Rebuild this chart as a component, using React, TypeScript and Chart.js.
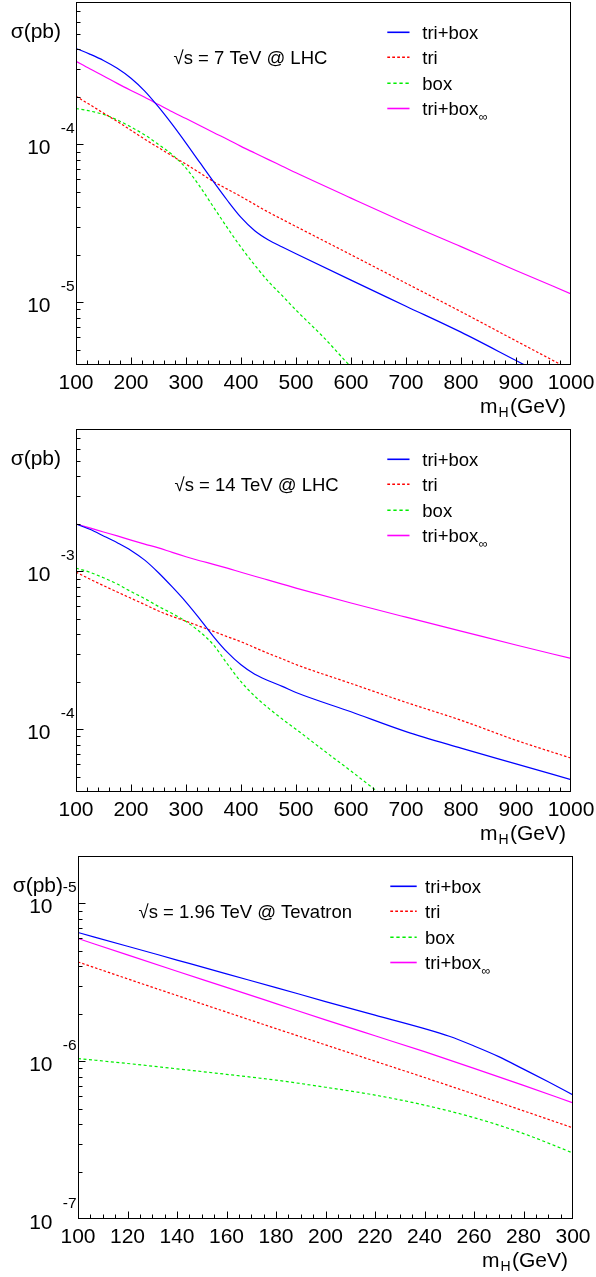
import React, { useEffect, useRef } from "react";
import { Chart, registerables } from "chart.js";

Chart.register(...registerables);

const FONT = '"Liberation Sans", Arial, Helvetica, sans-serif';

// ---------------- data: sqrt(s) = 7 TeV @ LHC ----------------
const MH_LHC = [100, 125, 150, 175, 200, 225, 250, 275, 300, 325, 350, 375, 400, 425, 450, 475, 500, 600, 700, 800, 900, 1000];
const MH_LHC7_BOX = [100, 125, 150, 175, 200, 225, 250, 275, 300, 325, 350, 375, 400, 425, 450, 475, 500, 550, 600, 650];
const LHC7_TRIBOX = [4.06e-4, 3.74e-4, 3.41e-4, 3.04e-4, 2.63e-4, 2.18e-4, 1.73e-4, 1.34e-4, 1.02e-4, 7.69e-5, 5.81e-5, 4.43e-5, 3.45e-5, 2.84e-5, 2.48e-5, 2.24e-5, 2.03e-5, 1.38e-5, 9.44e-6, 6.46e-6, 4.27e-6, 2.82e-6];
const LHC7_TRI = [2.02e-4, 1.79e-4, 1.58e-4, 1.40e-4, 1.23e-4, 1.08e-4, 9.55e-5, 8.45e-5, 7.50e-5, 6.61e-5, 5.82e-5, 5.21e-5, 4.68e-5, 4.17e-5, 3.72e-5, 3.35e-5, 3.02e-5, 2.00e-5, 1.32e-5, 8.71e-6, 5.69e-6, 3.72e-6];
const LHC7_BOX = [1.69e-4, 1.63e-4, 1.55e-4, 1.43e-4, 1.29e-4, 1.15e-4, 1.00e-4, 8.61e-5, 7.08e-5, 5.43e-5, 4.01e-5, 2.97e-5, 2.23e-5, 1.72e-5, 1.35e-5, 1.10e-5, 8.91e-6, 6.00e-6, 3.89e-6, 2.63e-6];
const LHC7_TRIBOX_INF = [3.37e-4, 3.02e-4, 2.72e-4, 2.44e-4, 2.20e-4, 1.99e-4, 1.79e-4, 1.61e-4, 1.46e-4, 1.32e-4, 1.19e-4, 1.08e-4, 9.73e-5, 8.83e-5, 8.02e-5, 7.28e-5, 6.61e-5, 4.57e-5, 3.18e-5, 2.25e-5, 1.59e-5, 1.13e-5];

// ---------------- data: sqrt(s) = 14 TeV @ LHC ----------------
const MH_LHC14_BOX = [100, 125, 150, 175, 200, 225, 250, 275, 300, 325, 350, 375, 400, 425, 450, 475, 500, 550, 600, 650, 700];
const LHC14_TRIBOX = [2.00e-3, 1.85e-3, 1.68e-3, 1.52e-3, 1.36e-3, 1.18e-3, 9.82e-4, 7.98e-4, 6.40e-4, 5.01e-4, 3.87e-4, 3.08e-4, 2.56e-4, 2.23e-4, 2.03e-4, 1.87e-4, 1.71e-4, 1.29e-4, 9.66e-5, 7.59e-5, 6.03e-5, 4.79e-5];
const LHC14_TRI = [9.91e-4, 8.95e-4, 8.13e-4, 7.41e-4, 6.76e-4, 6.17e-4, 5.62e-4, 5.19e-4, 4.84e-4, 4.49e-4, 4.17e-4, 3.86e-4, 3.59e-4, 3.29e-4, 3.02e-4, 2.79e-4, 2.57e-4, 1.95e-4, 1.48e-4, 1.14e-4, 8.51e-5, 6.56e-5];
const LHC14_BOX = [1.05e-3, 9.89e-4, 9.12e-4, 8.32e-4, 7.46e-4, 6.73e-4, 6.00e-4, 5.41e-4, 4.82e-4, 4.15e-4, 3.42e-4, 2.60e-4, 2.00e-4, 1.62e-4, 1.36e-4, 1.16e-4, 1.00e-4, 7.35e-5, 5.43e-5, 3.98e-5, 2.95e-5];
const LHC14_TRIBOX_INF = [2.00e-3, 1.89e-3, 1.78e-3, 1.68e-3, 1.58e-3, 1.49e-3, 1.41e-3, 1.32e-3, 1.24e-3, 1.17e-3, 1.11e-3, 1.05e-3, 9.89e-4, 9.33e-4, 8.81e-4, 8.32e-4, 7.85e-4, 6.31e-4, 5.13e-4, 4.19e-4, 3.42e-4, 2.81e-4];

// ---------------- data: sqrt(s) = 1.96 TeV @ Tevatron ----------------
const MH_TEV = [100, 120, 140, 160, 180, 200, 220, 240, 260, 280, 300];
const MH_TEV_TRIBOX = [100, 120, 140, 160, 180, 200, 220, 240, 250, 260, 270, 280, 290, 300];
const TEV_TRIBOX = [6.55e-6, 5.36e-6, 4.38e-6, 3.58e-6, 2.93e-6, 2.39e-6, 1.96e-6, 1.61e-6, 1.44e-6, 1.25e-6, 1.07e-6, 8.91e-7, 7.41e-7, 6.12e-7];
const TEV_TRI = [4.26e-6, 3.33e-6, 2.61e-6, 2.05e-6, 1.61e-6, 1.27e-6, 1.00e-6, 7.89e-7, 6.19e-7, 4.85e-7, 3.78e-7];
const TEV_BOX = [1.04e-6, 9.68e-7, 8.95e-7, 8.26e-7, 7.59e-7, 6.84e-7, 6.10e-7, 5.27e-7, 4.39e-7, 3.48e-7, 2.62e-7];
const TEV_TRIBOX_INF = [6.00e-6, 4.72e-6, 3.72e-6, 2.94e-6, 2.32e-6, 1.83e-6, 1.45e-6, 1.15e-6, 9.02e-7, 7.03e-7, 5.45e-7];

// ---------------- axis / tick labels ----------------
const X_TICKS_LHC = [100, 200, 300, 400, 500, 600, 700, 800, 900, 1000];
const X_TICKS_TEV = [100, 120, 140, 160, 180, 200, 220, 240, 260, 280, 300];
const Y_DECADES_LHC7 = [-6, -5, -4, -3];
const Y_DECADES_LHC14 = [-5, -4, -3, -2];
const Y_DECADES_TEV = [-7, -6, -5];
const Y_RANGE_LHC7 = [4e-6, 8e-4];
const Y_RANGE_LHC14 = [4e-5, 8e-3];
const Y_RANGE_TEV = [1e-7, 2e-5];
const TITLES = ["\u221As = 7 TeV @ LHC", "\u221As = 14 TeV @ LHC", "\u221As = 1.96 TeV @ Tevatron"];
const LEGEND_LABELS = ["tri+box", "tri", "box", "tri+box"];
const Y_TITLE = "\u03C3(pb)";

type Series = { label: string; sub?: string; x: number[]; y: number[]; color: string; dash: number[] };

type PanelSpec = {
  canvasTop: number;
  canvasHeight: number;
  area: { left: number; top: number; right: number; bottom: number };
  xRange: [number, number];
  xTicks: number[];
  xMinorStep: number;
  yRange: number[];
  yDecades: number[];
  title: string;
  titleX: number;
  legendLine: [number, number];
  legendTextX: number;
  series: Series[];
};

const W = 596;

function makeSeries(x1: number[], y1: number[], x2: number[], y2: number[], x3: number[], y3: number[], x4: number[], y4: number[]): Series[] {
  return [
    { label: LEGEND_LABELS[0], x: x1, y: y1, color: "#0000ff", dash: [] },
    { label: LEGEND_LABELS[1], x: x2, y: y2, color: "#ff0000", dash: [2.5, 2] },
    { label: LEGEND_LABELS[2], x: x3, y: y3, color: "#00ee00", dash: [3, 2.5] },
    { label: LEGEND_LABELS[3], sub: "\u221E", x: x4, y: y4, color: "#ff00ff", dash: [] },
  ];
}

const PANELS: PanelSpec[] = [
  {
    canvasTop: 0,
    canvasHeight: 422,
    area: { left: 76, top: 2, right: 571, bottom: 365 },
    xRange: [100, 1000],
    xTicks: X_TICKS_LHC,
    xMinorStep: 20,
    yRange: Y_RANGE_LHC7,
    yDecades: Y_DECADES_LHC7,
    title: TITLES[0],
    titleX: 173.5,
    legendLine: [387.3, 409.5],
    legendTextX: 422.3,
    series: makeSeries(MH_LHC, LHC7_TRIBOX, MH_LHC, LHC7_TRI, MH_LHC7_BOX, LHC7_BOX, MH_LHC, LHC7_TRIBOX_INF),
  },
  {
    canvasTop: 422,
    canvasHeight: 423,
    area: { left: 76, top: 7, right: 571, bottom: 370 },
    xRange: [100, 1000],
    xTicks: X_TICKS_LHC,
    xMinorStep: 20,
    yRange: Y_RANGE_LHC14,
    yDecades: Y_DECADES_LHC14,
    title: TITLES[1],
    titleX: 174.5,
    legendLine: [387.3, 409.5],
    legendTextX: 422.3,
    series: makeSeries(MH_LHC, LHC14_TRIBOX, MH_LHC, LHC14_TRI, MH_LHC14_BOX, LHC14_BOX, MH_LHC, LHC14_TRIBOX_INF),
  },
  {
    canvasTop: 845,
    canvasHeight: 432,
    area: { left: 78, top: 11, right: 573, bottom: 374 },
    xRange: [100, 300],
    xTicks: X_TICKS_TEV,
    xMinorStep: 5,
    yRange: Y_RANGE_TEV,
    yDecades: Y_DECADES_TEV,
    title: TITLES[2],
    titleX: 138.5,
    legendLine: [390.3, 416.7],
    legendTextX: 425,
    series: makeSeries(MH_TEV_TRIBOX, TEV_TRIBOX, MH_TEV, TEV_TRI, MH_TEV, TEV_BOX, MH_TEV, TEV_TRIBOX_INF),
  },
];

function makeDecor(p: PanelSpec) {
  return {
    id: "rootDecor",
    afterDraw(chart: any) {
      const ctx: CanvasRenderingContext2D = chart.ctx;
      const { left, right, top, bottom } = chart.chartArea;
      const xs = chart.scales.x;
      const ys = chart.scales.y;
      ctx.save();
      ctx.strokeStyle = "#000";
      ctx.fillStyle = "#000";
      ctx.lineWidth = 1;
      ctx.setLineDash([]);

      // frame
      ctx.strokeRect(left + 0.5, top + 0.5, right - left - 1, bottom - top - 1);

      // x ticks (inside)
      ctx.beginPath();
      const [x0, x1] = p.xRange;
      const nMinor = Math.round((x1 - x0) / p.xMinorStep);
      for (let i = 0; i <= nMinor; i++) {
        const v = x0 + i * p.xMinorStep;
        const isMajor = p.xTicks.some((t) => Math.abs(t - v) < 1e-9);
        const px = Math.min(Math.round(xs.getPixelForValue(v)), right - 1) + 0.5;
        const len = isMajor ? 7 : 4;
        ctx.moveTo(px, bottom - 0.5);
        ctx.lineTo(px, bottom - 0.5 - len);
      }
      // y ticks (inside), decades + 2..9 minors
      const [yMin, yMax] = p.yRange;
      for (const d of p.yDecades) {
        for (let k = 1; k <= 9; k++) {
          const v = k * Math.pow(10, d);
          if (v < yMin * 0.999 || v > yMax * 1.001) continue;
          const py = Math.min(Math.round(ys.getPixelForValue(v)), bottom - 1) + 0.5;
          const len = k === 1 ? 7 : 4;
          ctx.moveTo(left + 0.5, py);
          ctx.lineTo(left + 0.5 + len, py);
        }
      }
      ctx.stroke();

      // x tick labels
      ctx.font = `21px ${FONT}`;
      ctx.textAlign = "center";
      ctx.textBaseline = "alphabetic";
      for (const t of p.xTicks) {
        ctx.fillText(String(t), xs.getPixelForValue(t), bottom + 23.5);
      }

      // y tick labels 10^d
      for (const d of p.yDecades) {
        const v = Math.pow(10, d);
        if (v < yMin * 0.999 || v > yMax * 1.001) continue;
        const py = ys.getPixelForValue(v);
        ctx.font = `21px ${FONT}`;
        ctx.textAlign = "right";
        ctx.fillText("10", left - 25.5, py + 9.5);
        ctx.font = `15.5px ${FONT}`;
        ctx.fillText(String(d), left - 1.5, py - 11);
      }

      // y title
      ctx.font = `21px ${FONT}`;
      ctx.textAlign = "right";
      ctx.fillText(Y_TITLE, left - 15, top + 35.8);

      // x title  m_H(GeV)
      const xr = right - 5;
      const xb = bottom + 47.8;
      ctx.textAlign = "left";
      ctx.font = `21px ${FONT}`;
      const wGeV = ctx.measureText("(GeV)").width;
      const wM = ctx.measureText("m").width;
      ctx.font = `14px ${FONT}`;
      const wH = ctx.measureText("H").width;
      let cx = xr - wGeV - wH - 1.5 - wM - 1;
      ctx.font = `21px ${FONT}`;
      ctx.fillText("m", cx, xb);
      cx += wM + 1;
      ctx.font = `14px ${FONT}`;
      ctx.fillText("H", cx, xb + 4.6);
      cx += wH + 1.5;
      ctx.font = `21px ${FONT}`;
      ctx.fillText("(GeV)", cx, xb);

      // title
      ctx.font = `18.5px ${FONT}`;
      ctx.textAlign = "left";
      ctx.fillText(p.title, p.titleX, top + 62);

      // legend
      const rows = [30.3, 55.3, 81.3, 106.5];
      p.series.forEach((s, i) => {
        const cy = top + rows[i];
        ctx.save();
        ctx.strokeStyle = s.color;
        ctx.lineWidth = 1.6;
        ctx.setLineDash(s.dash.map((v) => v * 1.1));
        ctx.beginPath();
        ctx.moveTo(p.legendLine[0], cy);
        ctx.lineTo(p.legendLine[1], cy);
        ctx.stroke();
        ctx.restore();
        ctx.fillStyle = "#000";
        ctx.font = `18.5px ${FONT}`;
        ctx.textAlign = "left";
        ctx.fillText(s.label, p.legendTextX, cy + 6.7);
        if (s.sub) {
          const w = ctx.measureText(s.label).width;
          ctx.font = `12.5px ${FONT}`;
          ctx.fillText(s.sub, p.legendTextX + w + 0.5, cy + 12.5);
        }
      });
      ctx.restore();
    },
  };
}

function Panel({ spec }: { spec: PanelSpec }) {
  const ref = useRef<HTMLCanvasElement | null>(null);
  useEffect(() => {
    const canvas = ref.current;
    if (!canvas) return;
    const a = spec.area;
    const chart = new Chart(canvas, {
      type: "line",
      data: {
        datasets: spec.series.map((s) => ({
          label: s.label,
          data: s.x.map((x, i) => ({ x, y: s.y[i] })),
          borderColor: s.color,
          backgroundColor: s.color,
          borderWidth: 1.2,
          borderDash: s.dash,
          pointRadius: 0,
          fill: false,
          cubicInterpolationMode: "monotone" as const,
        })),
      },
      options: {
        animation: false,
        responsive: false,
        devicePixelRatio: 1,
        events: [],
        layout: {
          padding: { left: a.left, top: a.top, right: W - a.right, bottom: spec.canvasHeight - a.bottom },
        },
        plugins: {
          legend: { display: false },
          title: { display: false },
          tooltip: { enabled: false },
        },
        scales: {
          x: { type: "linear", min: spec.xRange[0], max: spec.xRange[1], display: false },
          y: { type: "logarithmic", min: spec.yRange[0], max: spec.yRange[1], display: false },
        },
      },
      plugins: [makeDecor(spec)],
    } as any);
    return () => chart.destroy();
  }, [spec]);
  return (
    <canvas
      ref={ref}
      width={W}
      height={spec.canvasHeight}
      style={{ position: "absolute", left: 0, top: spec.canvasTop, width: W, height: spec.canvasHeight, display: "block" }}
    />
  );
}

export default function App() {
  return (
    <div style={{ position: "absolute", left: 0, top: 0, width: W, height: 1277, background: "#fff", overflow: "hidden" }}>
      {PANELS.map((p, i) => (
        <Panel key={i} spec={p} />
      ))}
    </div>
  );
}
